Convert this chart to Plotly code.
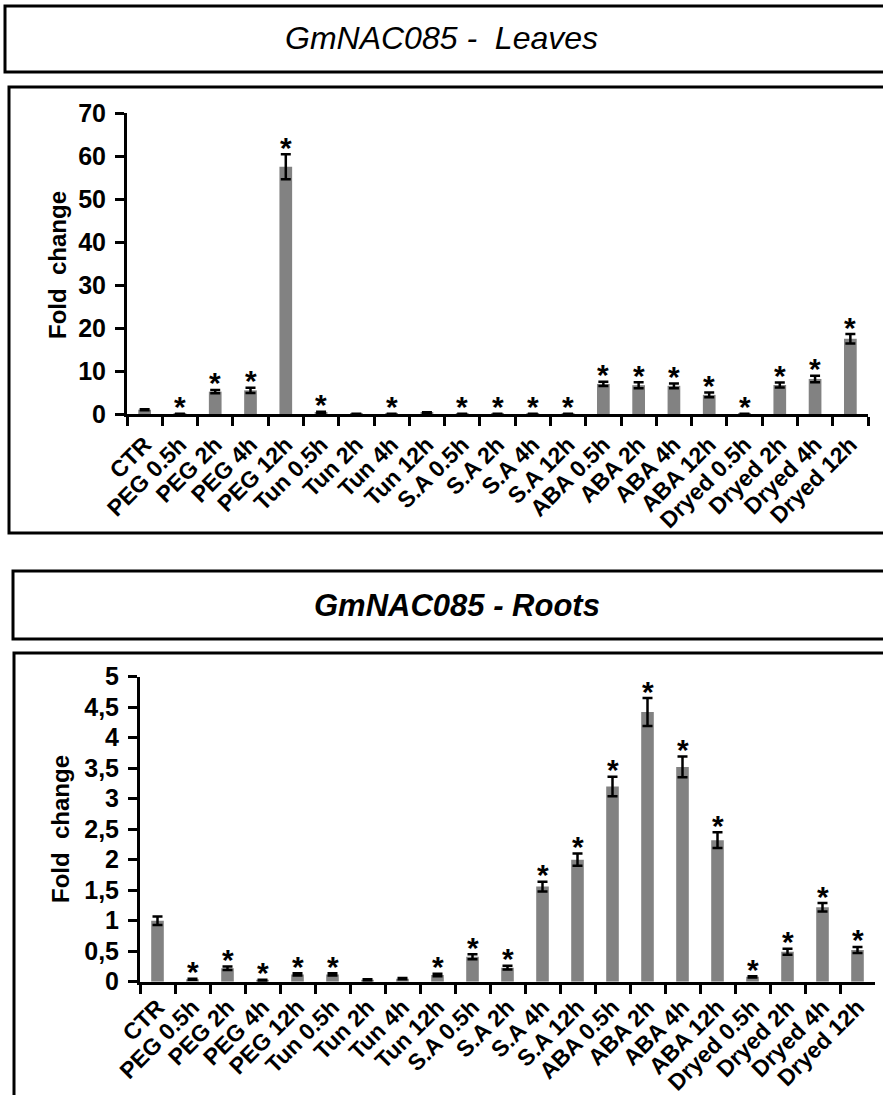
import plotly.graph_objects as go

categories = ["CTR", "PEG 0.5h", "PEG 2h", "PEG 4h", "PEG 12h",
              "Tun 0.5h", "Tun 2h", "Tun 4h", "Tun 12h",
              "S.A 0.5h", "S.A 2h", "S.A 4h", "S.A 12h",
              "ABA 0.5h", "ABA 2h", "ABA 4h", "ABA 12h",
              "Dryed 0.5h", "Dryed 2h", "Dryed 4h", "Dryed 12h"]

leaves_values = [1.0, 0.05, 5.2, 5.5, 57.5, 0.4, 0.05, 0.05, 0.35,
                 0.02, 0.02, 0.02, 0.02, 7.0, 6.7, 6.55, 4.45,
                 0.02, 6.75, 8.15, 17.5]
leaves_errors = [0.1, 0.02, 0.4, 0.6, 2.9, 0.1, 0.02, 0.02, 0.05,
                 0.01, 0.01, 0.01, 0.01, 0.5, 0.7, 0.55, 0.55,
                 0.01, 0.6, 0.75, 1.1]
leaves_sig = [0, 1, 1, 1, 1, 1, 0, 1, 0,
              1, 1, 1, 1, 1, 1, 1, 1,
              1, 1, 1, 1]

roots_values = [1.0, 0.04, 0.22, 0.02, 0.12, 0.12, 0.03, 0.05, 0.11,
                0.41, 0.23, 1.56, 2.0, 3.2, 4.42, 3.52, 2.32,
                0.08, 0.49, 1.22, 0.52]
roots_errors = [0.07, 0.01, 0.03, 0.01, 0.02, 0.02, 0.01, 0.01, 0.02,
                0.04, 0.03, 0.08, 0.1, 0.16, 0.23, 0.17, 0.13,
                0.01, 0.05, 0.07, 0.05]
roots_sig = [0, 1, 1, 1, 1, 1, 0, 0, 1,
             1, 1, 1, 1, 1, 1, 1, 1,
             1, 1, 1, 1]

leaves_tickvals = [0, 10, 20, 30, 40, 50, 60, 70]
roots_tickvals = [0, 0.5, 1, 1.5, 2, 2.5, 3, 3.5, 4, 4.5, 5]
roots_ticktext = ["0", "0,5", "1", "1,5", "2", "2,5", "3", "3,5", "4", "4,5", "5"]

title_leaves = "GmNAC085 -\u00a0 Leaves"
title_roots = "GmNAC085 - Roots"
y_title = "Fold\u00a0 change"

W, H = 883, 1095
FONT = "Liberation Sans, Arial, sans-serif"
BAR_COLOR = "#828282"


def px(x):
    return x / W


def py(y):
    return 1 - y / H


fig = go.Figure()

fig.add_trace(go.Bar(
    x=categories, y=leaves_values,
    error_y=dict(type="data", array=leaves_errors, color="black",
                 thickness=2.5, width=5),
    marker=dict(color=BAR_COLOR, line=dict(width=0)),
    xaxis="x", yaxis="y", showlegend=False, hoverinfo="x+y"))

fig.add_trace(go.Bar(
    x=categories, y=roots_values,
    error_y=dict(type="data", array=roots_errors, color="black",
                 thickness=2.5, width=5),
    marker=dict(color=BAR_COLOR, line=dict(width=0)),
    xaxis="x2", yaxis="y2", showlegend=False, hoverinfo="x+y"))

star_font = dict(family=FONT, size=30, color="black", weight="bold")
annotations = []
for cat, v, e, s in zip(categories, leaves_values, leaves_errors, leaves_sig):
    if s:
        annotations.append(dict(x=cat, y=v + e, xref="x", yref="y", text="*",
                                showarrow=False, yanchor="middle", yshift=7,
                                font=star_font))
for cat, v, e, s in zip(categories, roots_values, roots_errors, roots_sig):
    if s:
        annotations.append(dict(x=cat, y=v + e, xref="x2", yref="y2", text="*",
                                showarrow=False, yanchor="middle", yshift=7,
                                font=star_font))

# panel titles
annotations.append(dict(x=px(441), y=py(38), xref="paper", yref="paper",
                        text=title_leaves, showarrow=False,
                        xanchor="center", yanchor="middle",
                        font=dict(family=FONT, size=32, color="black", style="italic")))
annotations.append(dict(x=px(457), y=py(605), xref="paper", yref="paper",
                        text=title_roots, showarrow=False,
                        xanchor="center", yanchor="middle",
                        font=dict(family=FONT, size=31, color="black", style="italic", weight="bold")))
# axis titles
annotations.append(dict(x=px(58), y=py(265), xref="paper", yref="paper",
                        text=y_title, showarrow=False, textangle=-90,
                        xanchor="center", yanchor="middle",
                        font=dict(family=FONT, size=24, color="black", weight="bold")))
annotations.append(dict(x=px(60), y=py(829), xref="paper", yref="paper",
                        text=y_title, showarrow=False, textangle=-90,
                        xanchor="center", yanchor="middle",
                        font=dict(family=FONT, size=24, color="black", weight="bold")))

shapes = []
box_line = dict(color="black", width=3)
for x0, y0, y1 in [(5, 6, 72), (9, 87, 533), (13, 571, 639), (14, 653, 1110)]:
    shapes.append(dict(type="rect", xref="paper", yref="paper",
                       x0=px(x0), x1=px(900), y0=py(y1), y1=py(y0),
                       line=box_line, fillcolor="rgba(0,0,0,0)", layer="below"))

xcommon = dict(type="category", showline=True, linecolor="black", linewidth=3,
               ticks="outside", tickson="boundaries", ticklen=9, tickwidth=2.5,
               tickcolor="black", tickangle=-45, showgrid=False, zeroline=False,
               automargin=False,
               range=[-0.5, len(categories) - 0.5],
               tickfont=dict(family=FONT, size=23, color="black", weight="bold"))
ycommon = dict(showline=True, linecolor="black", linewidth=3, ticks="outside",
               ticklen=9, tickwidth=2.5, tickcolor="black", showgrid=False,
               zeroline=False, automargin=False, ticklabelstandoff=4,
               tickfont=dict(family=FONT, size=25, color="black", weight="bold"))

fig.update_layout(
    width=W, height=H,
    margin=dict(l=0, r=0, t=0, b=0, autoexpand=False),
    paper_bgcolor="white", plot_bgcolor="white",
    bargap=0.64,
    xaxis=dict(xcommon, domain=[px(127), px(868)], anchor="y", ticklabelstandoff=5),
    yaxis=dict(ycommon, domain=[py(414), py(113)], anchor="x",
               range=[0, 70], tickvals=leaves_tickvals),
    xaxis2=dict(xcommon, domain=[px(140), px(875)], anchor="y2", ticklabelstandoff=0),
    yaxis2=dict(ycommon, domain=[py(981.7), py(676.7)], anchor="x2",
                range=[0, 5], tickvals=roots_tickvals, ticktext=roots_ticktext),
    annotations=annotations,
    shapes=shapes,
)

fig.write_html("out.html", config={"displayModeBar": False},
               post_script="document.body.style.margin='0';document.body.style.overflow='hidden';")
